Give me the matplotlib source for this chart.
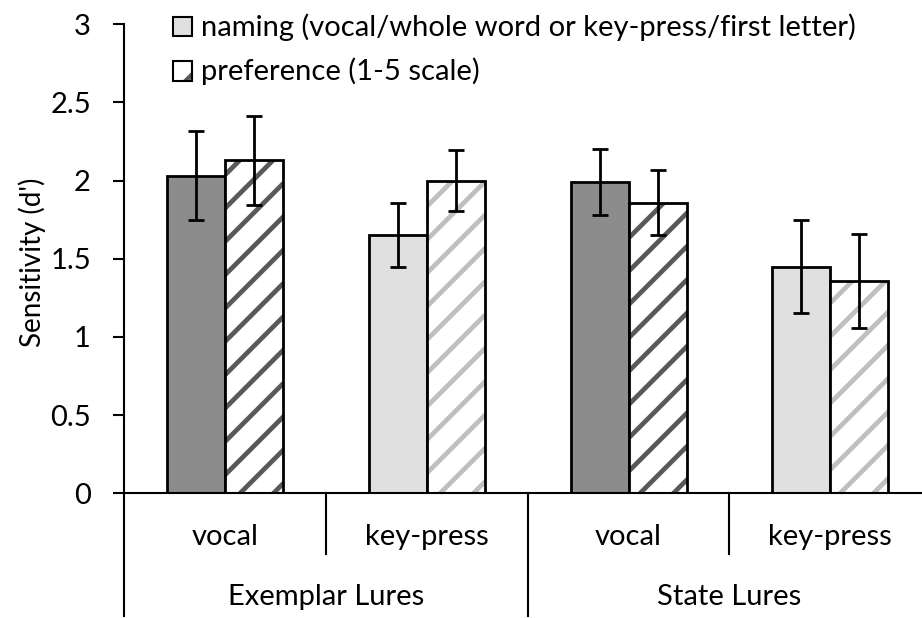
import matplotlib
matplotlib.use("Agg")
import numpy as np
import matplotlib.pyplot as plt
from matplotlib.patches import Rectangle
from matplotlib.transforms import blended_transform_factory

plt.rcParams['font.family'] = ['Lato', 'DejaVu Sans']
plt.rcParams['hatch.linewidth'] = 3.4

# Sensitivity data per response condition
conditions = ["vocal", "key-press", "vocal", "key-press"]
lure_types = ["Exemplar Lures", "State Lures"]
naming = [2.03, 1.65, 1.99, 1.45]
naming_err = [0.285, 0.205, 0.21, 0.295]
preference = [2.13, 2.00, 1.86, 1.36]
preference_err = [0.285, 0.195, 0.21, 0.30]
series_labels = ["naming (vocal/whole word or key-press/first letter)",
                 "preference (1-5 scale)"]
yticks = [0, 0.5, 1, 1.5, 2, 2.5, 3]
ytick_labels = ["0", "0.5", "1", "1.5", "2", "2.5", "3"]
ylabel = "Sensitivity (d')"

W, H = 922, 618
fig = plt.figure(figsize=(W / 100, H / 100), dpi=100)


def fx(px):
    return px / W


def fy(py):
    return 1 - py / H


ax = fig.add_axes([fx(124.3), fy(493.3), fx(931.1 - 124.3), fy(24.3) - fy(493.3)])

FS = 21
x = np.arange(len(conditions))
w = 0.2875
naming_colors = ['#8c8c8c', '#e0e0e0', '#8c8c8c', '#e0e0e0']
hatch_colors = ['#595959', '#bfbfbf', '#595959', '#bfbfbf']

ax.bar(x - w / 2, naming, w, color=naming_colors, edgecolor='black',
       linewidth=2, zorder=2)
ax.bar(x + w / 2, preference, w, color='white', edgecolor=hatch_colors,
       hatch='/', linewidth=0, zorder=2)
ax.bar(x + w / 2, preference, w, fill=False, edgecolor='black',
       linewidth=2, zorder=3)
ax.errorbar(x - w / 2, naming, yerr=naming_err, fmt='none', ecolor='black',
            elinewidth=2, capsize=5.5, capthick=2, zorder=4)
ax.errorbar(x + w / 2, preference, yerr=preference_err, fmt='none',
            ecolor='black', elinewidth=2, capsize=5.5, capthick=2, zorder=4)

ax.set_xlim(-0.5, len(conditions) - 0.5)
ax.set_ylim(0, 3)
ax.set_yticks(yticks)
ax.set_yticklabels(ytick_labels, fontsize=FS)
ax.tick_params(axis='y', direction='out', length=8, width=1.5, pad=16)
ax.set_xticks([])
for s in ('top', 'right'):
    ax.spines[s].set_visible(False)
for s in ('left', 'bottom'):
    ax.spines[s].set_linewidth(1.5)

# Category dividers below the axis
trans = blended_transform_factory(ax.transData, fig.transFigure)
for xv, bottom in [(-0.5, 616), (0.5, 554), (1.5, 616), (2.5, 554)]:
    ax.plot([xv, xv], [fy(493.3), fy(bottom)], color='black', lw=1.5,
            transform=trans, clip_on=False)

for i, cond in enumerate(conditions):
    ax.text(i, fy(536.7), cond, transform=trans, ha='center', va='center',
            fontsize=FS)
for j, lure in enumerate(lure_types):
    ax.text(2 * j + 0.5, fy(596.7), lure, transform=trans, ha='center',
            va='center', fontsize=FS)

fig.text(fx(32), fy(262), ylabel, rotation=90, ha='center', va='center',
         fontsize=20)

# Legend entries
legend_rows = [26.7, 71.5]
fig.add_artist(Rectangle((fx(173), fy(legend_rows[0] + 9)), fx(19), fy(0) - fy(19),
                         transform=fig.transFigure, facecolor='#e0e0e0',
                         edgecolor='black', linewidth=1.5))
fig.add_artist(Rectangle((fx(173), fy(legend_rows[1] + 9)), fx(19), fy(0) - fy(19),
                         transform=fig.transFigure, facecolor='white',
                         edgecolor='#595959', hatch='/', linewidth=0))
fig.add_artist(Rectangle((fx(173), fy(legend_rows[1] + 9)), fx(19), fy(0) - fy(19),
                         transform=fig.transFigure, fill=False,
                         edgecolor='black', linewidth=1.5))
for row, label in zip(legend_rows, series_labels):
    fig.text(fx(201), fy(row), label, ha='left', va='center', fontsize=FS)

fig.savefig("out.png", dpi=100)
